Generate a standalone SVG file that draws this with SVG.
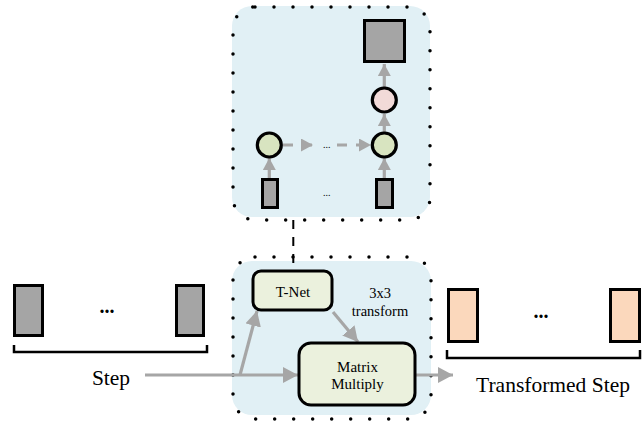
<svg xmlns="http://www.w3.org/2000/svg" width="642" height="426" viewBox="0 0 642 426">
<style>
.panel{fill:#e1f0f5;stroke:none}
.dots{fill:none;stroke:#000;stroke-width:3.5;stroke-linecap:round;stroke-dasharray:0 19}
.gray{fill:#a5a5a5;stroke:#000;stroke-width:3}
.peach{fill:#fbd8bc;stroke:#000;stroke-width:3}
.green{fill:#d8e4c0;stroke:#000;stroke-width:3.2}
.pink{fill:#f2dad8;stroke:#000;stroke-width:3.2}
.box{fill:#ebf1dd;stroke:#000;stroke-width:3}
.arr{fill:none;stroke:#a6a6a6;stroke-width:3.2}
.dash{stroke-dasharray:10 9}
.brk{fill:none;stroke:#000;stroke-width:2.5}
.t{font-family:"Liberation Serif","Times New Roman",serif;fill:#000;text-anchor:middle}
.b{font-weight:bold}
</style>
<defs>
<marker id="ah" markerUnits="userSpaceOnUse" markerWidth="16" markerHeight="16" refX="15" refY="8" orient="auto">
<path d="M0,0 L15,8 L0,16 z" fill="#a6a6a6"/>
</marker>
<marker id="as" markerUnits="userSpaceOnUse" markerWidth="13" markerHeight="13" refX="12" refY="6.5" orient="auto">
<path d="M0,0 L12,6.5 L0,13 z" fill="#a6a6a6"/>
</marker>
</defs>

<g id="top-panel">
<rect class="panel" x="232" y="6" width="198" height="211" rx="20"/>
<rect class="dots" x="233" y="7" width="197" height="213" rx="22"/>
</g>
<g id="bottom-panel">
<rect class="panel" x="232" y="261" width="199" height="154" rx="20"/>
<rect class="dots" x="233" y="257" width="198" height="162" rx="22"/>
</g>

<g id="connectors">
<path class="arr" d="M269.3,178 V158" marker-end="url(#as)"/>
<path class="arr" d="M384.3,178 V158" marker-end="url(#as)"/>
<path class="arr" d="M384.3,132 V114" marker-end="url(#as)"/>
<path class="arr" d="M384.3,87 V64" marker-end="url(#as)"/>
<path class="arr dash" d="M283,145 H313" marker-end="url(#as)"/>
<path class="arr dash" d="M337,145 H371" marker-end="url(#as)"/>
<path d="M293.3,220 V270" stroke="#000" stroke-width="2" stroke-dasharray="9 8" fill="none"/>
<path class="arr" d="M145,375 H298" marker-end="url(#ah)"/>
<path class="arr" d="M240,375 L257,311" marker-end="url(#ah)"/>
<path class="arr" d="M333,312 L358,342" marker-end="url(#ah)"/>
<path class="arr" d="M415,375 H453" marker-end="url(#ah)"/>
</g>

<g id="input-left"><rect class="gray" x="262.5" y="179.5" width="15" height="28"/></g>
<g id="input-right"><rect class="gray" x="376.5" y="179.5" width="16" height="28"/></g>
<g id="mlp-left"><circle class="green" cx="269.3" cy="145" r="12"/></g>
<g id="mlp-right"><circle class="green" cx="384.3" cy="145" r="12"/></g>
<g id="pool"><circle class="pink" cx="384.3" cy="100" r="12"/></g>
<g id="matrix-out"><rect class="gray" x="364.5" y="20.5" width="40" height="41"/></g>
<g id="top-ellipses">
<text class="t" x="326.7" y="148" font-size="10">...</text>
<text class="t" x="326.7" y="196" font-size="10">...</text>
</g>

<g id="tnet">
<rect class="box" x="253" y="271" width="79" height="39" rx="8"/>
<text class="t" x="293" y="297" font-size="15">T-Net</text>
</g>
<g id="transform-label">
<text class="t" x="380" y="298" font-size="14.5">3x3</text>
<text class="t" x="380" y="316" font-size="14.5">transform</text>
</g>
<g id="matmul">
<rect class="box" x="299" y="343" width="116" height="62" rx="12"/>
<text class="t" x="357.5" y="372" font-size="15">Matrix</text>
<text class="t" x="357.5" y="389" font-size="15">Multiply</text>
</g>

<g id="step">
<rect class="gray" x="14.5" y="285.5" width="28" height="50"/>
<rect class="gray" x="176.5" y="285.5" width="27" height="50"/>
<text class="t b" x="107" y="313" font-size="20">...</text>
<path class="brk" d="M14,345 V352 H207 V345"/>
<text class="t" x="111" y="385" font-size="21.5">Step</text>
</g>

<g id="transformed-step">
<rect class="peach" x="448.5" y="289.5" width="29" height="52"/>
<rect class="peach" x="610.5" y="289.5" width="29" height="52"/>
<text class="t b" x="541" y="318" font-size="20">...</text>
<path class="brk" d="M447,350 V358 H640 V350"/>
<text class="t" x="553" y="392" font-size="21.5">Transformed Step</text>
</g>
</svg>
